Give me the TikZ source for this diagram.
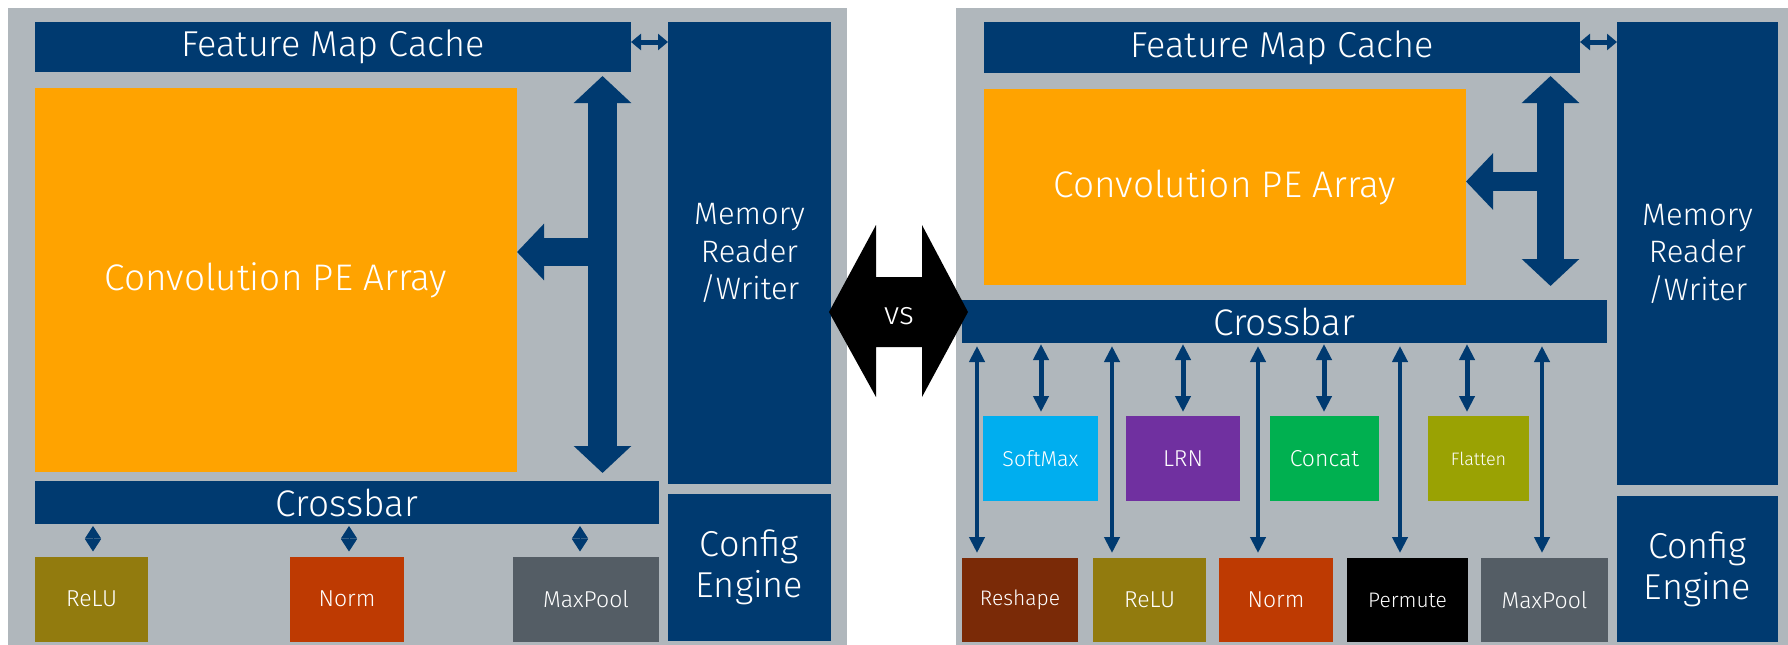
\documentclass[tikz,border=0pt]{standalone}
\usepackage{fontspec}
\IfFontExistsTF{Fira Sans Book}
  {\setmainfont{Fira Sans Book}}
  {\IfFontExistsTF{Fira Sans Light}
    {\setmainfont{Fira Sans Light}}
    {\setmainfont{Fira Sans}}}
\usetikzlibrary{arrows.meta,calc}

\definecolor{navy}{HTML}{003A70}
\definecolor{panelgray}{HTML}{B0B7BC}
\definecolor{peorange}{HTML}{FFA300}
\definecolor{reluc}{HTML}{927B0E}
\definecolor{normc}{HTML}{BE3A02}
\definecolor{poolc}{HTML}{545D65}
\definecolor{softc}{HTML}{00AEEF}
\definecolor{lrnc}{HTML}{7030A0}
\definecolor{concatc}{HTML}{00B050}
\definecolor{flatc}{HTML}{9AA203}
\definecolor{reshc}{HTML}{7A2A07}

\newcommand\fsz[2]{\fontsize{#1}{#2}\selectfont}

\tikzset{
  panel/.style={fill=panelgray, inner sep=0pt, outer sep=0pt},
  blk/.style={fill=navy, text=white, inner sep=0pt, outer sep=0pt, align=center},
  opbox/.style={text=white, inner sep=0pt, outer sep=0pt, align=center,
                minimum height=85pt, font=\fsz{23}{28}},
  bigarr/.style={draw=navy, line width=27pt,
                 {Triangle[width=56pt,length=27pt]}-{Triangle[width=56pt,length=27pt]}},
  sidearr/.style={draw=navy, line width=28pt, -{Triangle[width=55pt,length=27pt]}},
  linkarr/.style={draw=navy, line width=5pt,
                  {Triangle[width=16pt,length=10pt]}-{Triangle[width=16pt,length=10pt]}},
  diam/.style={draw=navy, line width=1pt,
               {Triangle[width=16pt,length=12.5pt]}-{Triangle[width=16pt,length=12.5pt]}},
  busarr/.style={draw=navy, line width=4.5pt,
                 {Triangle[width=15pt,length=16pt]}-{Triangle[width=15pt,length=16pt]}},
}

\begin{document}
\begin{tikzpicture}[x=1pt,y=-1pt]
  \useasboundingbox (0,0) rectangle (1788,645);
  \fill[white] (0,0) rectangle (1788,645);

  % ---------------- left design ----------------
  \node[panel, minimum width=839pt, minimum height=637pt] (bgL) at (427.5,326.5) {};
  \node[blk, minimum width=596pt, minimum height=50pt, font=\fsz{36}{42}] (fmcL) at (333,47) {Feature Map Cache};
  \node[blk, fill=peorange, minimum width=482pt, minimum height=384pt, font=\fsz{37}{44}] (convL) at (276,280) {Convolution PE Array};
  \node[blk, minimum width=163pt, minimum height=462pt, font=\fsz{31}{37.5}] (memL) at (749.5,253) {Memory\\Reader\\/Writer};
  \node[blk, minimum width=163pt, minimum height=147pt, font=\fsz{36}{41}] (cfgL) at (749.5,567.5) {Config\\Engine};
  \node[blk, minimum width=624pt, minimum height=43pt, font=\fsz{37}{42}] (xbarL) at (347,502.5) {Crossbar};
  \node[opbox, fill=reluc, minimum width=113pt] (reluL) at (91.5,599) {ReLU};
  \node[opbox, fill=normc, minimum width=114pt] (normL) at (347,599) {Norm};
  \node[opbox, fill=poolc, minimum width=146pt] (poolL) at (586,599) {MaxPool};

  \coordinate (jL) at (602.5,252);
  \draw[bigarr, line width=29pt, shorten <=4pt, shorten >=8pt] (jL |- fmcL.south) -- (jL |- xbarL.north);
  \draw[sidearr] (jL) -- (convL.east |- jL);
  \draw[linkarr] ([yshift=5pt]fmcL.east) -- ([yshift=5pt]fmcL.east -| memL.west);

  \coordinate (dL1) at (93,540);
  \coordinate (dL2) at (349,540);
  \coordinate (dL3) at (580,540);
  \draw[diam, shorten <=2pt, shorten >=5pt] (dL1 |- xbarL.south) -- (dL1 |- reluL.north);
  \draw[diam, shorten <=2pt, shorten >=5pt] (dL2 |- xbarL.south) -- (dL2 |- normL.north);
  \draw[diam, shorten <=2pt, shorten >=5pt] (dL3 |- xbarL.south) -- (dL3 |- poolL.north);

  % ---------------- right design ----------------
  \node[panel, minimum width=832pt, minimum height=637pt] (bgR) at (1372,326.5) {};
  \node[blk, minimum width=596pt, minimum height=51pt, font=\fsz{36}{42}] (fmcR) at (1282,47.5) {Feature Map Cache};
  \node[blk, fill=peorange, minimum width=482pt, minimum height=196pt, font=\fsz{37}{44}] (convR) at (1225,187) {Convolution PE Array};
  \node[blk, minimum width=161pt, minimum height=463pt, font=\fsz{31}{37.5}] (memR) at (1697.5,253.5) {Memory\\Reader\\/Writer};
  \node[blk, minimum width=161pt, minimum height=146pt, font=\fsz{36}{41}] (cfgR) at (1697.5,569) {Config\\Engine};
  \node[blk, minimum width=645pt, minimum height=43pt, font=\fsz{37}{42}] (xbarR) at (1284.5,321.5) {Crossbar};

  \node[opbox, fill=softc, minimum width=115pt, font=\fsz{21.5}{26}] (soft) at (1040.5,458.5) {SoftMax};
  \node[opbox, fill=lrnc, minimum width=114pt] (lrn) at (1183,458.5) {LRN};
  \node[opbox, fill=concatc, minimum width=109pt] (concat) at (1324.5,458.5) {Concat};
  \node[opbox, fill=flatc, minimum width=101pt, font=\fsz{18}{22}] (flat) at (1478.5,458.5) {Flatten};

  \node[opbox, fill=reshc, minimum width=116pt, minimum height=84pt, font=\fsz{21}{26}] (resh) at (1020,600) {Reshape};
  \node[opbox, fill=reluc, minimum width=113pt, minimum height=84pt] (reluR) at (1149.5,600) {ReLU};
  \node[opbox, fill=normc, minimum width=114pt, minimum height=84pt] (normR) at (1276,600) {Norm};
  \node[opbox, fill=black, minimum width=121pt, minimum height=84pt, font=\fsz{21}{26}] (perm) at (1407.5,600) {Permute};
  \node[opbox, fill=poolc, minimum width=127pt, minimum height=84pt] (poolR) at (1544.5,600) {MaxPool};

  \coordinate (jR) at (1550.5,181.5);
  \draw[bigarr, shorten <=3pt, shorten >=14pt] (jR |- fmcR.south) -- (jR |- xbarR.north);
  \draw[sidearr, line width=19pt] (jR) -- (convR.east |- jR);
  \draw[linkarr] ([yshift=5.5pt]fmcR.east) -- ([yshift=5.5pt]fmcR.east -| memR.west);

  % short links to the upper row of operators
  \coordinate (sR1) at (1041,380);
  \coordinate (sR2) at (1183,380);
  \coordinate (sR3) at (1324,380);
  \coordinate (sR4) at (1467,380);
  \draw[busarr, line width=5pt, shorten <=1pt, shorten >=4pt] (sR1 |- xbarR.south) -- (sR1 |- soft.north);
  \draw[busarr, line width=5pt, shorten <=1pt, shorten >=4pt] (sR2 |- xbarR.south) -- (sR2 |- lrn.north);
  \draw[busarr, line width=5pt, shorten <=1pt, shorten >=4pt] (sR3 |- xbarR.south) -- (sR3 |- concat.north);
  \draw[busarr, line width=5pt, shorten <=1pt, shorten >=4pt] (sR4 |- xbarR.south) -- (sR4 |- flat.north);

  % long links to the lower row of operators
  \coordinate (lR1) at (977,450);
  \coordinate (lR2) at (1112,450);
  \coordinate (lR3) at (1258,450);
  \coordinate (lR4) at (1400,450);
  \coordinate (lR5) at (1542,450);
  \draw[busarr, shorten <=3pt, shorten >=5pt] (lR1 |- xbarR.south) -- (lR1 |- resh.north);
  \draw[busarr, shorten <=3pt, shorten >=5pt] (lR2 |- xbarR.south) -- (lR2 |- reluR.north);
  \draw[busarr, shorten <=3pt, shorten >=5pt] (lR3 |- xbarR.south) -- (lR3 |- normR.north);
  \draw[busarr, shorten <=3pt, shorten >=5pt] (lR4 |- xbarR.south) -- (lR4 |- perm.north);
  \draw[busarr, shorten <=3pt, shorten >=5pt] (lR5 |- xbarR.south) -- (lR5 |- poolR.north);

  % ---------------- comparison badge ----------------
  \fill[black] (829,312) -- (876,225) -- (876,277) -- (922,277) -- (922,225)
     -- (968,312) -- (922,397) -- (922,347) -- (876,347) -- (876,397) -- cycle;
  \node[text=white, inner sep=0pt, font=\fsz{32}{38}] (vs) at (899,316) {vs};
\end{tikzpicture}
\end{document}
